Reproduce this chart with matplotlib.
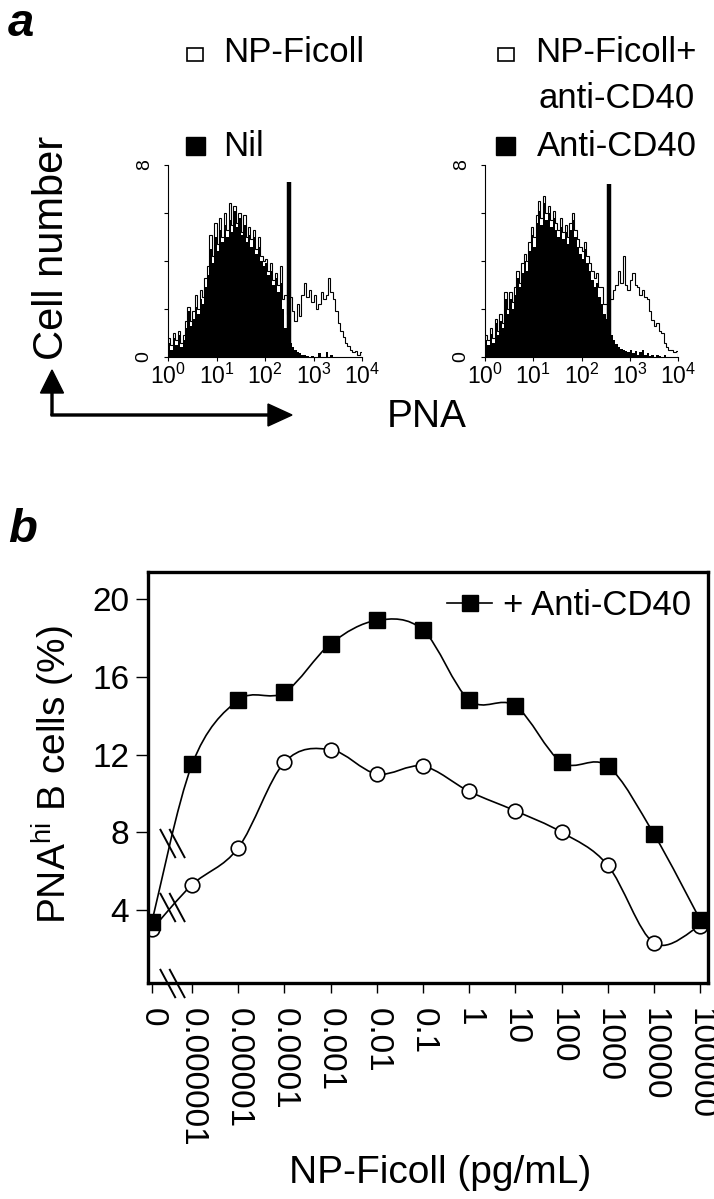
import numpy as np
import matplotlib
matplotlib.use("Agg")
import matplotlib.pyplot as plt
from matplotlib.path import Path
from matplotlib.patches import PathPatch, Rectangle, FancyArrow
from matplotlib.lines import Line2D
from matplotlib.ticker import LogFormatterMathtext, NullFormatter

plt.rcParams["font.family"] = ["Liberation Sans", "DejaVu Sans"]
plt.rcParams["mathtext.default"] = "regular"

W, H = 714, 1199

# ---- panel a: flow histograms (log10 PNA, 80 channels of 0.05 decade) ----
hist_lo, hist_hi, n_bins = 0.0, 4.0, 80

nil_black = [0.6, 0.3, 0.8, 0.5, 0.9, 0.4, 0.7, 1.2,
             1.9, 1.3, 1.6, 2.1, 1.8, 2.4, 2.2, 2.9,
             3.4, 4.5, 3.9, 5.0, 4.4, 5.3, 4.8, 5.5,
             5.0, 5.7, 5.2, 6.1, 5.4, 5.8, 5.1, 5.5,
             4.8, 5.1, 4.6, 5.0, 4.3, 4.6, 4.0, 3.8,
             3.9, 3.4, 3.6, 3.0, 3.3, 2.7, 3.1, 2.0,
             1.2, 0.9, 0.6, 0.4, 0.3, 0.2, 0.15, 0.1,
             0.1, 0.05, 0.0, 0.05, 0.0, 0.0, 0.15, 0.0,
             0.0, 0.2, 0.0, 0.1, 0.0, 0.0, 0.0, 0.0,
             0.0, 0.0, 0.0, 0.0, 0.0, 0.0, 0.0, 0.0]
npficoll_line = [0.8, 0.5, 1.0, 0.7, 1.1, 0.6, 0.9, 1.5,
                 2.1, 1.5, 1.9, 2.6, 2.0, 2.8, 2.5, 3.3,
                 3.8, 5.1, 4.2, 5.6, 4.7, 5.8, 5.0, 6.0,
                 5.3, 6.4, 5.5, 6.3, 5.6, 6.0, 5.2, 5.9,
                 5.0, 5.4, 4.9, 5.3, 4.5, 5.0, 4.2, 4.0,
                 4.1, 3.6, 3.9, 3.2, 3.5, 3.0, 3.8, 2.4,
                 2.6, 1.8, 2.5, 1.9, 1.5, 2.2, 1.7, 2.6,
                 3.1, 2.5, 2.8, 2.3, 2.6, 2.0, 2.2, 2.7,
                 2.4, 2.6, 3.3, 2.7, 2.4, 1.9, 1.4, 1.1,
                 0.85, 0.6, 0.44, 0.3, 0.2, 0.25, 0.1, 0.2]
cd40_black = [0.7, 0.5, 0.97, 0.6, 1.4, 0.9, 1.5, 1.2,
              2.4, 1.8, 2.4, 2.0, 2.6, 3.3, 2.9, 3.5,
              4.0, 3.6, 4.4, 5.1, 4.6, 5.6, 6.1, 5.5,
              6.4, 5.7, 6.0, 5.4, 5.8, 5.3, 5.0, 5.4,
              4.9, 5.2, 4.7, 5.3, 5.7, 5.0, 4.6, 4.3,
              4.1, 4.5, 3.9, 3.6, 3.2, 2.9, 3.1, 2.5,
              2.2, 1.8, 1.6, 1.1, 0.9, 0.7, 0.56, 0.4,
              0.35, 0.3, 0.25, 0.2, 0.3, 0.15, 0.25, 0.1,
              0.2, 0.3, 0.1, 0.15, 0.05, 0.1, 0.0, 0.1,
              0.05, 0.0, 0.1, 0.0, 0.0, 0.0, 0.0, 0.0]
npficoll_cd40_line = [0.9, 0.7, 1.2, 0.8, 1.6, 1.1, 1.8, 1.4,
                      2.7, 2.0, 2.7, 2.3, 2.9, 3.6, 3.1, 3.9,
                      4.3, 4.0, 4.8, 5.4, 5.0, 5.9, 6.5, 5.8,
                      6.7, 6.0, 6.3, 5.7, 6.1, 5.6, 5.3, 5.8,
                      5.2, 5.5, 5.0, 5.6, 6.0, 5.3, 4.9, 4.6,
                      4.4, 4.8, 4.2, 3.9, 3.6, 3.3, 3.5, 2.9,
                      2.9, 2.2, 2.2, 2.6, 2.4, 2.8, 3.0, 3.6,
                      3.1, 4.2, 3.0, 2.8, 3.2, 3.5, 3.0, 2.9,
                      2.6, 2.8, 2.5, 2.4, 1.9, 1.55, 1.3, 1.4,
                      1.1, 1.0, 0.6, 0.4, 0.3, 0.3, 0.2, 0.25]
gate_log = [2.49, 2.57]     # PNA-hi gate marker (log10)
gate_height = [7.3, 7.2]

# ---- panel b: dose response ----
conc_labels = ["0", "0.000001", "0.00001", "0.0001", "0.001", "0.01", "0.1",
               "1", "10", "100", "1000", "10000", "100000"]
conc_values = [0, 1e-6, 1e-5, 1e-4, 1e-3, 1e-2, 1e-1, 1, 10, 100, 1000, 1e4, 1e5]
with_cd40 = [3.4, 11.5, 14.8, 15.2, 17.7, 18.9, 18.4, 14.8, 14.5, 11.6, 11.4, 7.9, 3.5]
without_cd40 = [3.0, 5.3, 7.2, 11.6, 12.25, 11.0, 11.4, 10.1, 9.1, 8.0, 6.3, 2.3, 3.2]
zero_gap = 0.87   # axis break: decades between "0" and 1e-6

xpos = np.array([np.log10(conc_values[1]) - zero_gap] +
                [np.log10(c) for c in conc_values[1:]])


def px_axes(fig, l, t, r, b):
    return fig.add_axes([l / W, 1 - b / H, (r - l) / W, (b - t) / H])


def smooth_path(x, y):
    pts = np.column_stack([x, y])
    n = len(pts)
    verts, codes = [pts[0]], [Path.MOVETO]
    for i in range(n - 1):
        p0 = pts[i - 1] if i > 0 else pts[i]
        p1, p2 = pts[i], pts[i + 1]
        p3 = pts[i + 2] if i + 2 < n else pts[i + 1]
        verts += [p1 + (p2 - p0) / 6, p2 - (p3 - p1) / 6, p2]
        codes += [Path.CURVE4] * 3
    return Path(verts, codes)


# "\\" shaped axis-break glyph
break_marker = Path([(-12, 14), (3, -14), (-3, 14), (12, -14)],
                    [Path.MOVETO, Path.LINETO, Path.MOVETO, Path.LINETO])

fig = plt.figure(figsize=(W / 100, H / 100), dpi=100)

# overlay in pixel coords for free text / arrows
ov = fig.add_axes([0, 0, 1, 1])
ov.set_xlim(0, W)
ov.set_ylim(H, 0)
ov.axis("off")

edges = 10 ** np.linspace(hist_lo, hist_hi, n_bins + 1)


def draw_hist(ax, black, line, gate, gh):
    ax.stairs(line, edges, color="black", lw=0.8)
    ax.stairs(black, edges, fill=True, color="black", lw=0)
    ax.vlines(10 ** gate, 0, gh, color="black", lw=3.2)
    ax.set_xscale("log")
    ax.set_xlim(10 ** hist_lo, 10 ** hist_hi)
    ax.set_ylim(0, 8)
    for s in ["top", "right"]:
        ax.spines[s].set_visible(False)
    for s in ["left", "bottom"]:
        ax.spines[s].set_linewidth(0.8)
    ax.set_xticks([1, 10, 100, 1000, 10000])
    ax.xaxis.set_major_formatter(LogFormatterMathtext())
    ax.xaxis.set_minor_formatter(NullFormatter())
    ax.tick_params(axis="x", which="minor", length=0)
    ax.tick_params(axis="x", which="major", length=3, width=0.8, labelsize=16.5, pad=2)
    ax.set_yticks([0, 8])
    ax.set_yticklabels(["0", "8"], rotation=90, va="center")
    ax.set_yticks([2, 4, 6], minor=True)
    ax.tick_params(axis="y", which="both", length=3, width=0.8, labelsize=14, pad=8)


ax1 = px_axes(fig, 168, 165, 362, 357)
draw_hist(ax1, nil_black, npficoll_line, gate_log[0], gate_height[0])
ax2 = px_axes(fig, 485, 165, 678, 357)
draw_hist(ax2, cd40_black, npficoll_cd40_line, gate_log[1], gate_height[1])

# panel a legends / labels
ov.text(8, 2, "a", fontsize=34, fontweight="bold", fontstyle="italic", va="top", ha="left")
ov.add_patch(Rectangle((187, 48), 16, 13, fill=False, lw=1.2, ec="black"))
ov.text(223, 53, "NP-Ficoll", fontsize=25, va="center", ha="left")
ov.add_patch(Rectangle((186, 137), 19, 18, fc="black", ec="black"))
ov.text(223, 146, "Nil", fontsize=25, va="center", ha="left")
ov.add_patch(Rectangle((498, 48), 16, 13, fill=False, lw=1.2, ec="black"))
ov.text(535, 53, "NP-Ficoll+", fontsize=25, va="center", ha="left")
ov.text(538, 99, "anti-CD40", fontsize=25, va="center", ha="left")
ov.add_patch(Rectangle((496, 137), 19, 18, fc="black", ec="black"))
ov.text(537, 146, "Anti-CD40", fontsize=25, va="center", ha="left")

ov.text(52, 248, "Cell number", fontsize=30, rotation=90, va="center", ha="center")
ov.add_patch(FancyArrow(52, 415, 0, -22, width=2, head_width=23, head_length=23,
                        length_includes_head=False, color="black"))
ov.add_patch(FancyArrow(51, 415, 217, 0, width=2, head_width=22, head_length=24,
                        length_includes_head=False, color="black"))
ov.text(427, 417, "PNA", fontsize=28, va="center", ha="center")

# ---- panel b ----
ov.text(8, 508, "b", fontsize=34, fontweight="bold", fontstyle="italic", va="top", ha="left")
axb = px_axes(fig, 148, 572, 708, 983)
axb.set_xlim(xpos[0] - 0.085, xpos[-1] + 0.17)
axb.set_ylim(0.245, 21.39)

axb.add_patch(PathPatch(smooth_path(xpos, without_cd40), fill=False, lw=1.2, ec="black"))
axb.add_patch(PathPatch(smooth_path(xpos, with_cd40), fill=False, lw=1.2, ec="black"))
axb.plot(xpos, without_cd40, ls="none", marker="o", ms=10.5, mfc="white", mec="black", mew=1.2)
axb.plot(xpos, with_cd40, ls="none", marker="s", ms=11, mfc="black", mec="black")

# axis-break marks on the lines and the x axis
xmid = (xpos[0] + xpos[1]) / 2
brk = dict(marker=break_marker, ms=21, mew=1.4, color="black", ls="none")
axb.plot([xmid], [(with_cd40[0] + with_cd40[1]) / 2], **brk)
axb.plot([xmid], [(without_cd40[0] + without_cd40[1]) / 2], **brk)
axb.plot([xmid], [axb.get_ylim()[0]], clip_on=False, zorder=5, **brk)

for s in axb.spines.values():
    s.set_linewidth(2.4)
axb.set_yticks([4, 8, 12, 16, 20])
axb.tick_params(axis="y", length=8.5, width=1.0, labelsize=24, pad=5)
axb.set_xticks(xpos)
axb.set_xticklabels(conc_labels, rotation=-90, va="top", ha="center")
axb.tick_params(axis="x", length=7, width=1.0, labelsize=24, pad=11)

handle = Line2D([], [], color="black", lw=1.2, marker="s", ms=11)
axb.legend([handle], ["+ Anti-CD40"], loc="upper right", frameon=False, fontsize=25,
           handlelength=1.3, handletextpad=0.3, borderaxespad=0.3, borderpad=0.2)

ov.text(53, 775, r"PNA$^{\mathregular{hi}}$ B cells (%)", fontsize=28, rotation=90,
        va="center", ha="center")
ov.text(440, 1173, "NP-Ficoll (pg/mL)", fontsize=28, va="center", ha="center")

fig.savefig("out.png", dpi=100)
